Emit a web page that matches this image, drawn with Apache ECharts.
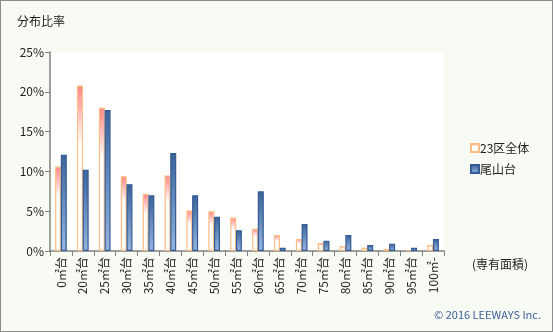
<!DOCTYPE html>
<html>
<head>
<meta charset="utf-8">
<script src="https://cdn.jsdelivr.net/npm/echarts@6/dist/echarts.min.js"></script>
<style>
  html, body { margin: 0; padding: 0; background: #ffffff; }
  #chart { width: 551px; height: 330px; border: 1px solid #8c8c8c; background: #f8faf4; }
</style>
</head>
<body>
<div id="chart"></div>
<script>
// Floor-area bands (x axis)
const categories = ['0㎡台', '20㎡台', '25㎡台', '30㎡台', '35㎡台', '40㎡台', '45㎡台', '50㎡台', '55㎡台',
  '60㎡台', '65㎡台', '70㎡台', '75㎡台', '80㎡台', '85㎡台', '90㎡台', '95㎡台', '100㎡-'];
// Share of listings per band, in percent
const ward23 = [10.6, 20.8, 18.0, 9.4, 7.2, 9.5, 5.1, 5.0, 4.2, 2.8, 2.0, 1.5, 1.0, 0.6, 0.4, 0.25, 0.13, 0.75];
const oyamadai = [12.1, 10.2, 17.7, 8.4, 7.0, 12.3, 7.0, 4.3, 2.6, 7.5, 0.4, 3.4, 1.3, 2.0, 0.75, 0.9, 0.4, 1.5];
const seriesNames = ['23区全体', '尾山台'];
const yTicks = [0, 5, 10, 15, 20, 25];

const font = '"Noto Sans CJK JP", "Noto Sans", sans-serif';
const chart = echarts.init(document.getElementById('chart'));

chart.setOption({
  backgroundColor: '#f8faf4',
  animation: false,
  textStyle: { fontFamily: font },
  title: {
    text: '分布比率', left: 11, top: 9,
    textStyle: { fontSize: 12, fontWeight: 'normal', color: '#222', fontFamily: font }
  },
  graphic: [
    { type: 'text', right: 24, top: 257, style: { text: '(専有面積)', fontSize: 12, fill: '#222', fontFamily: font } },
    { type: 'text', right: 11, top: 308, style: { text: '© 2016 LEEWAYS Inc.', fontSize: 11, fill: '#3a5f95', fontFamily: font } }
  ],
  legend: {
    orient: 'vertical', left: 464, top: 136, itemGap: 9,
    itemWidth: 8, itemHeight: 8, icon: 'rect',
    textStyle: { fontSize: 12, color: '#222', padding: [0, 0, 0, -4] },
    data: seriesNames
  },
  grid: {
    left: 49, top: 51, right: 108, bottom: 80,
    show: true, backgroundColor: '#ffffff', borderWidth: 0
  },
  xAxis: {
    type: 'category', data: categories,
    axisLine: { lineStyle: { color: '#808080', width: 1.5 } },
    axisTick: { show: true, length: 5, lineStyle: { color: '#808080' } },
    axisLabel: { rotate: 90, fontSize: 12, color: '#222', margin: 6, interval: 0 }
  },
  yAxis: {
    type: 'value', min: yTicks[0], max: yTicks[yTicks.length - 1], interval: 5,
    axisLine: { show: true, lineStyle: { color: '#808080', width: 1.5 } },
    axisTick: { show: true, length: 5, lineStyle: { color: '#808080' } },
    splitLine: { show: false },
    axisLabel: { formatter: '{value}%', fontSize: 12, color: '#222', margin: 6 }
  },
  series: [
    {
      name: seriesNames[0], type: 'bar', data: ward23,
      barWidth: 6, barGap: '-5%',
      itemStyle: {
        borderColor: '#fbbd85', borderWidth: 1.2,
        color: new echarts.graphic.LinearGradient(0, 0, 0, 1, [
          { offset: 0, color: '#ff8585' },
          { offset: 0.35, color: '#ffffff' },
          { offset: 1, color: '#ffffff' }
        ])
      }
    },
    {
      name: seriesNames[1], type: 'bar', data: oyamadai,
      barWidth: 6,
      itemStyle: {
        borderColor: '#335c94', borderWidth: 1.2,
        color: new echarts.graphic.LinearGradient(0, 0, 0, 1, [
          { offset: 0, color: '#3a6399' },
          { offset: 1, color: '#95b4df' }
        ])
      }
    }
  ]
});
</script>
</body>
</html>
